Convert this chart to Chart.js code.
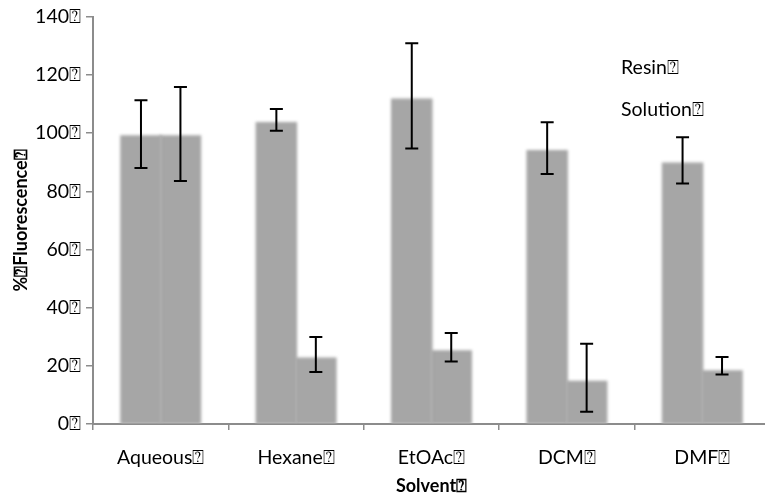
<!DOCTYPE html>
<html>
<head>
<meta charset="utf-8">
<script src="https://cdn.jsdelivr.net/npm/chart.js@4/dist/chart.umd.min.js"></script>
<style>
  html, body { margin: 0; padding: 0; background: #fff; overflow: hidden; }
  #wrap { width: 765px; height: 501px; overflow: hidden; }
</style>
</head>
<body>
<div id="wrap"><canvas id="chart" width="780" height="501"></canvas></div>
<script>
const Q = '\u2370';

// data
const solvents = ['Aqueous' + Q, 'Hexane' + Q, 'EtOAc' + Q, 'DCM' + Q, 'DMF' + Q];
const resin = [98.9, 103.5, 111.5, 93.8, 89.5];
const resinLow = [88.0, 100.8, 94.7, 85.9, 82.7];
const resinHigh = [111.3, 108.3, 130.9, 103.7, 98.6];
const solution = [98.9, 22.5, 25.0, 14.5, 18.1];
const solutionLow = [83.5, 17.9, 21.5, 4.2, 17.0];
const solutionHigh = [115.8, 29.9, 31.3, 27.6, 23.0];
const yTicks = [0, 20, 40, 60, 80, 100, 120, 140];

const FONT = 'Lato, "Open Sans", sans-serif';
const AXIS = '#8c8c8c';

// soft edges on the bars
const blurBars = {
  id: 'blurBars',
  beforeDatasetDraw(chart) {
    chart.ctx.save();
    chart.ctx.filter = 'blur(1.4px)';
  },
  afterDatasetDraw(chart) {
    chart.ctx.restore();
  }
};

// error bars from the low / high arrays
const errorBars = {
  id: 'errorBars',
  afterDatasetsDraw(chart) {
    const ctx = chart.ctx;
    const y = chart.scales.y;
    const bounds = [[resinLow, resinHigh], [solutionLow, solutionHigh]];
    ctx.save();
    ctx.strokeStyle = '#000';
    ctx.lineWidth = 2;
    chart.data.datasets.forEach((ds, i) => {
      chart.getDatasetMeta(i).data.forEach((bar, j) => {
        const x = bar.x;
        const top = y.getPixelForValue(bounds[i][1][j]);
        const bot = y.getPixelForValue(bounds[i][0][j]);
        ctx.beginPath();
        ctx.moveTo(x, top); ctx.lineTo(x, bot);
        ctx.moveTo(x - 6.5, top); ctx.lineTo(x + 6.5, top);
        ctx.moveTo(x - 6.5, bot); ctx.lineTo(x + 6.5, bot);
        ctx.stroke();
      });
    });
    ctx.restore();
  }
};

// legend without swatches, as in the picture
const textLegend = {
  id: 'textLegend',
  afterDraw(chart) {
    const ctx = chart.ctx;
    ctx.save();
    ctx.font = '19.5px ' + FONT;
    ctx.fillStyle = '#000';
    ctx.textAlign = 'left';
    ctx.textBaseline = 'middle';
    chart.data.datasets.forEach((ds, i) => {
      ctx.fillText(ds.label + Q, 621, 68 + i * 42);
    });
    ctx.restore();
  }
};

new Chart(document.getElementById('chart'), {
  type: 'bar',
  data: {
    labels: solvents,
    datasets: [
      { label: 'Resin', data: resin, backgroundColor: '#a6a6a6' },
      { label: 'Solution', data: solution, backgroundColor: '#a6a6a6' }
    ]
  },
  options: {
    responsive: false,
    animation: false,
    devicePixelRatio: 1,
    categoryPercentage: 0.583,
    barPercentage: 1,
    elements: { bar: { inflateAmount: 1 } },
    layout: { padding: { top: 15, right: 10, bottom: 0, left: 0 } },
    plugins: { legend: { display: false }, tooltip: { enabled: false } },
    scales: {
      x: {
        afterFit(scale) { scale.height = 77; },
        grid: { drawOnChartArea: false, tickLength: 6, color: AXIS, lineWidth: 1.5 },
        border: { color: AXIS, width: 2 },
        ticks: { color: '#000', font: { family: FONT, size: 19.5 }, padding: 16, maxRotation: 0 },
        title: {
          display: true, text: 'Solvent' + Q, color: '#000',
          font: { family: FONT, size: 18, weight: 'bold' },
          padding: { top: 0, bottom: 4 }
        }
      },
      y: {
        min: 0, max: 140,
        afterFit(scale) { scale.width = 93; },
        afterBuildTicks(scale) { scale.ticks = yTicks.map(v => ({ value: v })); },
        grid: { drawOnChartArea: false, tickLength: 7, color: AXIS, lineWidth: 1.5 },
        border: { color: AXIS, width: 2 },
        ticks: {
          color: '#000', font: { family: FONT, size: 19.5 }, padding: 5,
          callback: v => v + Q
        },
        title: {
          display: true, text: '%' + Q + 'Fluorescence' + Q, color: '#000',
          font: { family: FONT, size: 18, weight: 'bold' },
          padding: { top: 10, bottom: 0 }
        }
      }
    }
  },
  plugins: [blurBars, errorBars, textLegend]
});
</script>
</body>
</html>
